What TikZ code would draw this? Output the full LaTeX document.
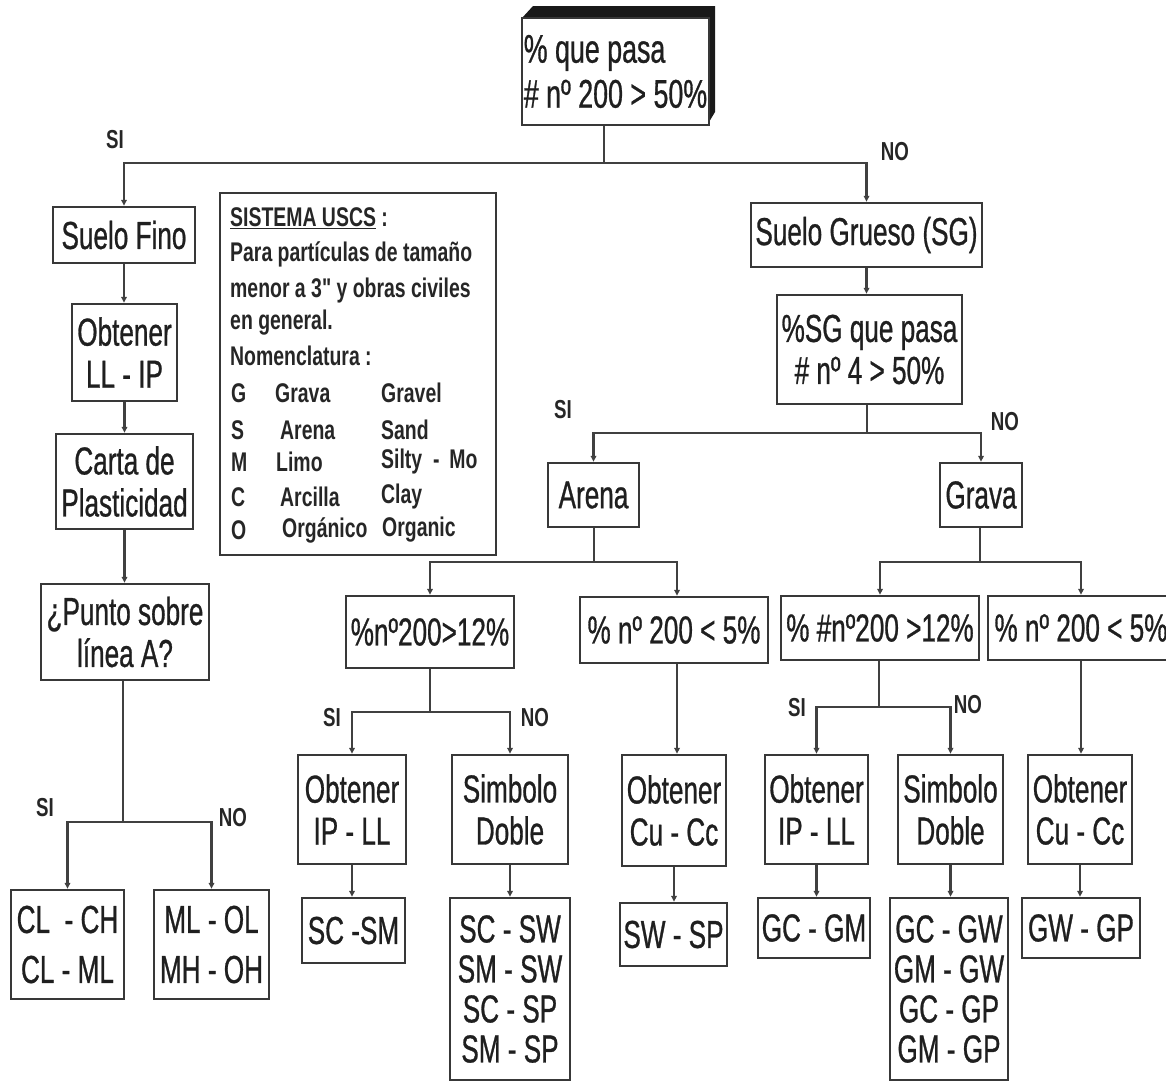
\documentclass[tikz,border=0pt]{standalone}
\usepackage{fontspec}
\setmainfont{Liberation Sans}
\newfontfamily\nar[FakeStretch=0.67,FakeBold=0.7]{Liberation Sans}
\newfontfamily\narb[FakeStretch=0.72]{Liberation Sans}
\usetikzlibrary{arrows.meta}
\newcommand\mybx[7][]{\node[box,minimum width=#5pt,minimum height=#6pt,#1] (#2) at (#3,#4) {#7};}
\begin{document}
\begin{tikzpicture}[x=1pt,y=-1pt,
  box/.style={draw=black!78, line width=2.4pt, fill=white, inner sep=0pt, align=center,
    font=\nar\fontsize{39}{42}\selectfont, text=black!88},
  conn/.style={draw=black!75, line width=2.2pt},
  arr/.style={conn, -{Triangle[length=6pt,width=5.5pt]}},
  lab/.style={inner sep=0pt, font=\narb\bfseries\fontsize{26}{28}\selectfont, text=black!85},
  leg/.style={anchor=west, inner sep=0pt, font=\narb\bfseries\fontsize{27}{30}\selectfont, text=black!85}]
\useasboundingbox (0,0) rectangle (1166,1082);
\fill[white] (0,0) rectangle (1166,1082);

% top 3D box
\fill[black!90] (522,18) -- (533,6) -- (715,6) -- (715,112) -- (709,122) -- (709,18) -- cycle;
\mybx[align=left, font=\nar\fontsize{40}{45}\selectfont]{top}{615.5}{71.5}{187}{107}{\% que pasa\\\# nº 200 > 50\%}

% left column
\mybx{sfino}{124}{235}{142}{56}{Suelo Fino}
\mybx{oll}{124.5}{352.5}{105}{97}{Obtener\\LL - IP}
\mybx{carta}{124.5}{481.5}{137}{95}{Carta de\\Plasticidad}
\mybx{punto}{125}{632}{168}{96}{¿Punto sobre\\línea A?}
\mybx[font=\nar\fontsize{39}{50}\selectfont]{cl}{67.5}{944.5}{113}{109}{CL \ - CH\\CL - ML}
\mybx[font=\nar\fontsize{39}{50}\selectfont]{ml}{211.5}{944.5}{115}{109}{ML - OL\\MH - OH}

% legend
\draw[draw=black!78, line width=2.4pt] (220,193) rectangle (496,555);
\node[leg] (l1) at (230,218) {\underline{SISTEMA USCS} :};
\node[leg] (l2) at (230,254) {Para partículas de tamaño};
\node[leg] (l3) at (230,291) {menor a 3" y obras civiles};
\node[leg] (l4) at (230,323) {en general.};
\node[leg] (l5) at (230,356) {Nomenclatura :};
\node[leg] (g1) at (231,393) {G};
\node[leg] (g2) at (275,393) {Grava};
\node[leg] (g3) at (381,393) {Gravel};
\node[leg] (s1) at (231,430) {S};
\node[leg] (s2) at (280,430) {Arena};
\node[leg] (s3) at (381,430) {Sand};
\node[leg] (m1) at (231,462) {M};
\node[leg] (m2) at (276,462) {Limo};
\node[leg] (m3) at (381,462) {Silty \ - \,Mo};
\node[leg] (c1) at (231,497) {C};
\node[leg] (c2) at (280,497) {Arcilla};
\node[leg] (c3) at (381,497) {Clay};
\node[leg] (o1) at (231,530) {O};
\node[leg] (o2) at (282,530) {Orgánico};
\node[leg] (o3) at (382,530) {Organic};

% right part
\mybx{sg}{866.5}{235}{231}{64}{Suelo Grueso (SG)}
\mybx{psg}{869.5}{349.5}{185}{109}{\%SG que pasa\\\# nº 4 > 50\%}
\mybx{arena}{593.5}{495}{91}{64}{Arena}
\mybx{grava}{981}{495}{82}{64}{Grava}
\mybx{a12}{430}{632}{168}{72}{\%nº200>12\%}
\mybx{a5}{674}{630}{188}{66}{\% nº 200 < 5\%}
\mybx{g12}{880}{628}{198}{64}{\% \#nº200 >12\%}
\mybx{g5}{1081}{628}{186}{64}{\% nº 200 < 5\%}

\mybx{aob}{352}{809.5}{108}{109}{Obtener\\IP - LL}
\mybx{asd}{510}{809.5}{116}{109}{Simbolo\\Doble}
\mybx{acu}{674}{810.5}{104}{111}{Obtener\\Cu - Cc}
\mybx{gob}{816.5}{809.5}{103}{109}{Obtener\\IP - LL}
\mybx{gsd}{950.5}{809.5}{105}{109}{Simbolo\\Doble}
\mybx{gcu}{1080}{809.5}{104}{109}{Obtener\\Cu - Cc}

\mybx{scsm}{353.5}{930.5}{103}{65}{SC -SM}
\mybx[font=\nar\fontsize{39}{40}\selectfont]{scsw}{510}{989}{120}{182}{SC - SW\\SM - SW\\SC - SP\\SM - SP}
\mybx{swsp}{673.5}{934.5}{107}{63}{SW - SP}
\mybx{gcgm}{814}{928}{112}{60}{GC - GM}
\mybx[font=\nar\fontsize{39}{40}\selectfont]{gcgw}{949}{989}{118}{182}{GC - GW\\GM - GW\\GC - GP\\GM - GP}
\mybx{gwgp}{1081}{928}{118}{60}{GW - GP}

% connectors
\coordinate (j1) at (604,163);
\draw[conn] (top.south -| j1) -- (j1);
\draw[arr] (j1) -| (sfino.north);
\draw[arr] (j1) -| (sg.north);

\draw[arr] (sfino.south) -- (sfino.south |- oll.north);
\draw[arr] (oll.south) -- (oll.south |- carta.north);
\draw[arr] (carta.south) -- (carta.south |- punto.north);
\coordinate (j6) at (123,822);
\draw[conn] (punto.south -| j6) -- (j6);
\draw[arr] (j6) -| (cl.north);
\draw[arr] (j6) -| (ml.north);

\draw[arr] (sg.south) -- (sg.south |- psg.north);
\coordinate (j2) at (867,433);
\draw[conn] (psg.south -| j2) -- (j2);
\draw[arr] (j2) -| (arena.north);
\draw[arr] (j2) -| (grava.north);

\coordinate (j3) at (594,562);
\draw[conn] (arena.south -| j3) -- (j3);
\draw[arr] (j3) -| (a12.north);
\draw[arr] (j3) -| ([xshift=3pt]a5.north);

\coordinate (j4) at (980,562);
\draw[conn] (grava.south -| j4) -- (j4);
\draw[arr] (j4) -| (g12.north);
\draw[arr] (j4) -| (g5.north);

\coordinate (j5) at (430,712);
\draw[conn] (a12.south) -- (a12.south |- j5);
\draw[arr] (a12.south |- j5) -| (aob.north);
\draw[arr] (a12.south |- j5) -| (asd.north);

\draw[arr] ([xshift=3pt]a5.south) -- ([xshift=3pt]a5.south |- acu.north);

\coordinate (j7) at (879,707);
\draw[conn] (g12.south -| j7) -- (j7);
\draw[arr] (j7) -| (gob.north);
\draw[arr] (j7) -| (gsd.north);

\draw[arr] (g5.south) -- (g5.south |- gcu.north);

\draw[arr] (aob.south) -- (aob.south |- scsm.north);
\draw[arr] (asd.south) -- (asd.south |- scsw.north);
\draw[arr] (acu.south) -- (acu.south |- swsp.north);
\draw[arr] (gob.south) -- (gob.south |- gcgm.north);
\draw[arr] (gsd.south) -- (gsd.south |- gcgw.north);
\draw[arr] (gcu.south) -- (gcu.south |- gwgp.north);

% labels
\node[lab] (si1) at (115,140) {SI};
\node[lab] (no1) at (895,152) {NO};
\node[lab] (si2) at (563,410) {SI};
\node[lab] (no2) at (1005,422) {NO};
\node[lab] (si3) at (332,718) {SI};
\node[lab] (no3) at (535,718) {NO};
\node[lab] (si4) at (797,708) {SI};
\node[lab] (no4) at (968,705) {NO};
\node[lab] (si5) at (45,808) {SI};
\node[lab] (no5) at (233,818) {NO};
\end{tikzpicture}
\end{document}
